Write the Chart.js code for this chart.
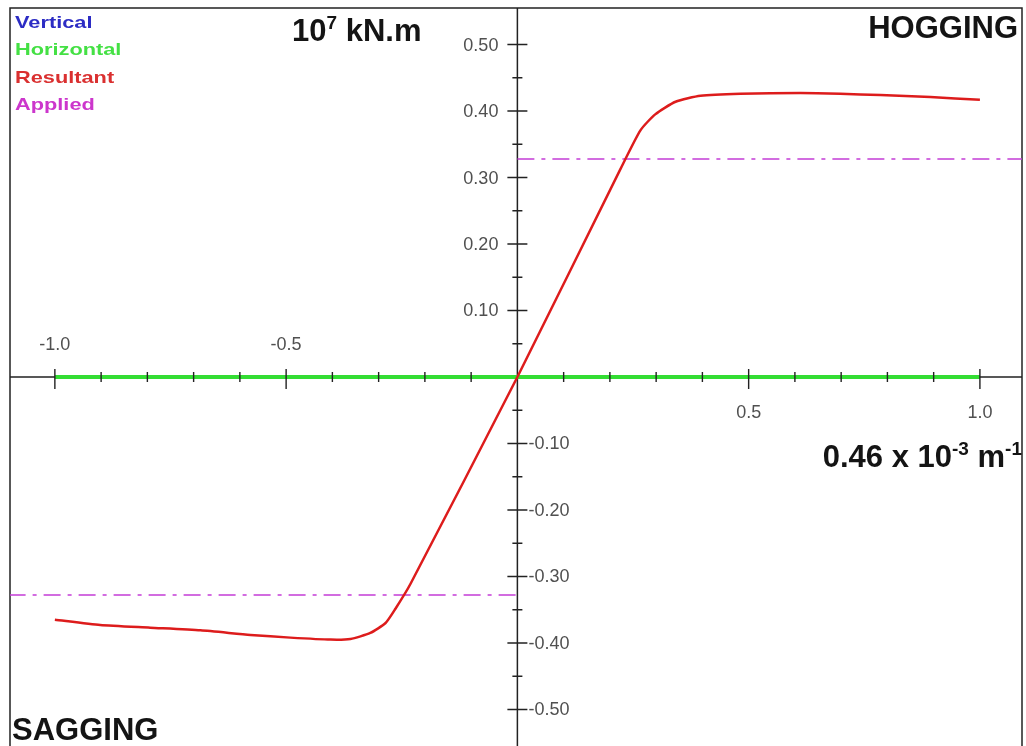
<!DOCTYPE html>
<html>
<head>
<meta charset="utf-8">
<script src="https://cdn.jsdelivr.net/npm/chart.js@4"></script>
<style>
  body { margin: 0; background: #fff; }
  #c { display: block; }
</style>
</head>
<body>
<canvas id="c" width="1026" height="746"></canvas>
<script>
// curvature (0.46 x 10^-3 m^-1) and moment (10^7 kN.m)
const resultantCurv = [-1.0, -0.902, -0.794, -0.685, -0.577, -0.491, -0.404, -0.361, -0.318, -0.285, -0.264, -0.231,
                       0, 0.223, 0.266, 0.298, 0.342, 0.396, 0.482, 0.612, 0.698, 0.785, 0.893, 1.0];
const resultantMom = [-0.365, -0.373, -0.377, -0.381, -0.388, -0.392, -0.395, -0.394, -0.385, -0.370, -0.349, -0.311,
                      0, 0.313, 0.371, 0.395, 0.414, 0.423, 0.426, 0.427, 0.426, 0.424, 0.421, 0.417];
const horizontalCurv = [-1.0, 1.0];
const horizontalMom = [0, 0];
const verticalCurv = [];
const verticalMom = [];
const appliedHog = 0.328;
const appliedSag = -0.328;

const xMajorTicks = [-1.0, -0.5, 0.5, 1.0];
const xTickLabels = ['-1.0', '-0.5', '0.5', '1.0'];
const yMajorTicks = [0.5, 0.4, 0.3, 0.2, 0.1, -0.1, -0.2, -0.3, -0.4, -0.5];
const yTickLabels = ['0.50', '0.40', '0.30', '0.20', '0.10', '-0.10', '-0.20', '-0.30', '-0.40', '-0.50'];
const xMinorStep = 0.1;
const yMinorStep = 0.05;

const FONT = '"Liberation Sans", Arial, sans-serif';

function pts(xs, ys) {
  return xs.map((x, i) => ({x: x, y: ys[i]}));
}

// text with superscript parts: [text, size, raise]
function drawParts(ctx, parts, x, y, alignRight) {
  let total = 0;
  parts.forEach(p => {
    ctx.font = 'bold ' + p[1] + 'px ' + FONT;
    total += ctx.measureText(p[0]).width;
  });
  let px = alignRight ? x - total : x;
  ctx.textAlign = 'left';
  ctx.textBaseline = 'alphabetic';
  parts.forEach(p => {
    ctx.font = 'bold ' + p[1] + 'px ' + FONT;
    ctx.fillText(p[0], px, y - p[2]);
    px += ctx.measureText(p[0]).width;
  });
}

const axesPlugin = {
  id: 'crossAxes',
  beforeDatasetsDraw(chart) {
    const ctx = chart.ctx, a = chart.chartArea;
    const xs = chart.scales.x, ys = chart.scales.y;
    const x0 = xs.getPixelForValue(0), y0 = ys.getPixelForValue(0);
    ctx.save();
    ctx.strokeStyle = '#222';
    ctx.lineWidth = 1.5;
    ctx.strokeRect(a.left, a.top, a.right - a.left, a.bottom - a.top + 4);
    ctx.beginPath();
    ctx.moveTo(a.left, y0); ctx.lineTo(a.right, y0);
    ctx.moveTo(x0, a.top); ctx.lineTo(x0, a.bottom);
    ctx.stroke();
    ctx.restore();
  },
  afterDatasetsDraw(chart) {
    const ctx = chart.ctx, a = chart.chartArea;
    const xs = chart.scales.x, ys = chart.scales.y;
    const x0 = xs.getPixelForValue(0), y0 = ys.getPixelForValue(0);
    ctx.save();
    ctx.strokeStyle = '#222';
    ctx.lineWidth = 1.4;
    ctx.beginPath();
    // x ticks
    for (let i = -10; i <= 10; i++) {
      if (i === 0) continue;
      const px = xs.getPixelForValue(i * xMinorStep);
      const major = (i % 5 === 0);
      ctx.moveTo(px, y0 - (major ? 8 : 5));
      ctx.lineTo(px, y0 + (major ? 12 : 5));
    }
    // y ticks
    for (let i = -10; i <= 10; i++) {
      if (i === 0) continue;
      const py = ys.getPixelForValue(i * yMinorStep);
      const major = (i % 2 === 0);
      ctx.moveTo(x0 - (major ? 10 : 5), py);
      ctx.lineTo(x0 + (major ? 10 : 5), py);
    }
    ctx.stroke();

    ctx.fillStyle = '#505050';
    ctx.font = '18px ' + FONT;
    ctx.textAlign = 'center';
    ctx.textBaseline = 'alphabetic';
    xMajorTicks.forEach((v, i) => {
      const px = xs.getPixelForValue(v);
      ctx.fillText(xTickLabels[i], px, v < 0 ? y0 - 27 : y0 + 41);
    });
    ctx.textBaseline = 'middle';
    yMajorTicks.forEach((v, i) => {
      const py = ys.getPixelForValue(v) + 1;
      if (v > 0) {
        ctx.textAlign = 'right';
        ctx.fillText(yTickLabels[i], x0 - 19, py);
      } else {
        ctx.textAlign = 'left';
        ctx.fillText(yTickLabels[i], x0 + 11, py);
      }
    });

    // legend from the datasets (wide bold lettering)
    ctx.save();
    ctx.translate(a.left + 5, a.top);
    ctx.scale(1.28, 1);
    ctx.font = 'bold 17px ' + FONT;
    ctx.textAlign = 'left';
    ctx.textBaseline = 'alphabetic';
    chart.data.datasets.forEach((ds, i) => {
      if (!ds.label) return;
      ctx.fillStyle = ds.legendColor;
      ctx.fillText(ds.label, 0, 20 + i * 27.3);
    });
    ctx.restore();

    // titles
    ctx.fillStyle = '#141414';
    drawParts(ctx, [['10', 31, 0], ['7', 19, 12], [' kN.m', 31, 0]], 292, 41, false);
    drawParts(ctx, [['HOGGING', 31, 0]], 1018, 38, true);
    drawParts(ctx, [['SAGGING', 31, 0]], 12, 740, false);
    drawParts(ctx, [['0.46 x 10', 31, 0], ['-3', 19, 12], [' m', 31, 0], ['-1', 19, 12]], 1022, 467, true);
    ctx.restore();
  }
};

new Chart(document.getElementById('c').getContext('2d'), {
  type: 'line',
  data: {
    datasets: [
      {
        label: 'Vertical',
        data: pts(verticalCurv, verticalMom),
        borderColor: '#2c2cc4',
        legendColor: '#2c2cc4',
        borderWidth: 3,
        pointRadius: 0,
        order: 0
      },
      {
        label: 'Horizontal',
        data: pts(horizontalCurv, horizontalMom),
        borderColor: '#33dd33',
        legendColor: '#44e044',
        borderWidth: 4,
        pointRadius: 0,
        order: 2
      },
      {
        label: 'Resultant',
        data: pts(resultantCurv, resultantMom),
        borderColor: '#dd1c1c',
        legendColor: '#da3030',
        borderWidth: 2.5,
        pointRadius: 0,
        tension: 0.2,
        order: 1
      },
      {
        label: 'Applied',
        data: [{x: 0, y: appliedHog}, {x: 1.1, y: appliedHog}, {x: null, y: null},
               {x: -1.1, y: appliedSag}, {x: 0, y: appliedSag}],
        borderColor: '#c43cd6',
        legendColor: '#cc36cc',
        borderWidth: 1.5,
        borderDash: [17, 7, 4, 7],
        pointRadius: 0,
        spanGaps: false,
        order: 3
      }
    ]
  },
  options: {
    responsive: false,
    animation: false,
    layout: { padding: { left: 10, right: 4, top: 8, bottom: 0 } },
    plugins: { legend: { display: false }, tooltip: { enabled: false } },
    scales: {
      x: { type: 'linear', min: -1.097, max: 1.091, display: false },
      y: { type: 'linear', min: -0.555, max: 0.555, display: false }
    }
  },
  plugins: [axesPlugin]
});
</script>
</body>
</html>
